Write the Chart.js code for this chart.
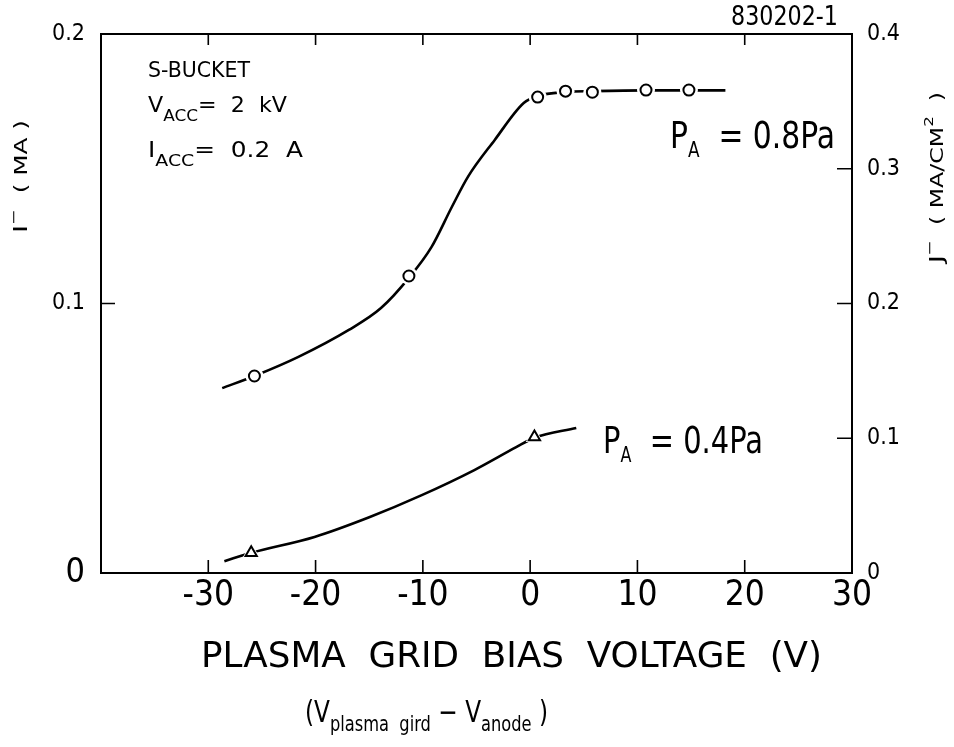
<!DOCTYPE html>
<html><head><meta charset="utf-8">
<script src="https://cdn.jsdelivr.net/npm/chart.js@4.4.1/dist/chart.umd.min.js"></script>
<style>html,body{margin:0;padding:0;background:#fff;overflow:hidden}#wrap{width:954px;height:747px}</style>
</head><body><div id="wrap"><canvas id="c" width="954" height="747"></canvas></div>
<script>
// ---- data ----
const xTickValues = [-30, -20, -10, 0, 10, 20, 30];
const leftTickValues = [0, 0.1, 0.2];
const rightTickValues = [0, 0.1, 0.2, 0.3, 0.4];

// P_A = 0.8 Pa : fitted curve and measured points
const curve08X = [-28.7, -25.7, -21.6, -16.9, -13.9, -11.3, -9.2, -7.3, -5.8, -3.3, -0.6, 0.7, 3.3, 5.8, 10.8, 14.8, 18.2];
const curve08Y = [0.0686, 0.0731, 0.0802, 0.0902, 0.0983, 0.1095, 0.1209, 0.1358, 0.1470, 0.1607, 0.1744, 0.1770, 0.1785, 0.1788, 0.1791, 0.1791, 0.1791];
const pts08X = [-25.7, -11.3, 0.7, 3.3, 5.8, 10.8, 14.8];
const pts08Y = [0.0731, 0.1102, 0.1766, 0.1788, 0.1784, 0.1792, 0.1792];

// P_A = 0.4 Pa
const curve04X = [-28.5, -26.0, -20.1, -15.0, -10.1, -5.2, -1.3, 0.4, 4.3];
const curve04Y = [0.0044, 0.0075, 0.0134, 0.0207, 0.0289, 0.0382, 0.0467, 0.0502, 0.0538];
const pts04X = [-26.0, 0.4];
const pts04Y = [0.0075, 0.0505];

const FAM = '"DejaVu Sans", "Liberation Sans", sans-serif';
const TICKFAM = '"DejaVu Sans Condensed", "Liberation Sans Narrow", "DejaVu Sans", sans-serif';
const xy = (xs, ys) => xs.map((x, i) => ({x, y: ys[i]}));

function drawParts(ctx, x, y, parts, sx) {
  let cx = x;
  for (const [t, size, dy] of parts) {
    ctx.font = size + 'px ' + FAM;
    const w = ctx.measureText(t).width * sx;
    ctx.save(); ctx.translate(cx, y + dy); ctx.scale(sx, 1); ctx.fillText(t, 0, 0); ctx.restore();
    cx += w;
  }
  return cx - x;
}
function partsWidth(ctx, parts) {
  let w = 0;
  for (const [t, size] of parts) { ctx.font = size + 'px ' + FAM; w += ctx.measureText(t).width; }
  return w;
}
function fitParts(ctx, left, y, parts, targetW) {
  const sx = targetW / partsWidth(ctx, parts);
  drawParts(ctx, left, y, parts, sx);
}

const decor = {
  id: 'decor',
  afterDatasetsDraw(chart) {
    const {ctx, chartArea: a, scales} = chart;
    ctx.save();
    ctx.strokeStyle = '#000'; ctx.fillStyle = '#000';
    ctx.lineWidth = 2;
    ctx.strokeRect(a.left, a.top, a.right - a.left, a.bottom - a.top);
    ctx.lineWidth = 1.6;
    ctx.beginPath();
    for (const v of xTickValues) {
      const px = scales.x.getPixelForValue(v);
      if (px >= a.right - 2) continue;
      ctx.moveTo(px, a.bottom); ctx.lineTo(px, a.bottom - 13);
      ctx.moveTo(px, a.top); ctx.lineTo(px, a.top + 11);
    }
    for (const v of leftTickValues) {
      const py = scales.y.getPixelForValue(v);
      if (py <= a.top + 2 || py >= a.bottom - 2) continue;
      ctx.moveTo(a.left, py); ctx.lineTo(a.left + 14, py);
    }
    for (const v of rightTickValues) {
      const py = scales.y2.getPixelForValue(v);
      if (py <= a.top + 2 || py >= a.bottom - 2) continue;
      ctx.moveTo(a.right, py); ctx.lineTo(a.right - 15, py);
    }
    ctx.stroke();

    ctx.textBaseline = 'alphabetic'; ctx.textAlign = 'left';
    // inset annotations
    fitParts(ctx, 148, 77, [['S-BUCKET', 21, 0]], 102);
    fitParts(ctx, 148, 112, [['V', 21, 0], ['ACC', 16, 9], ['=  2  kV', 21, 0]], 139);
    fitParts(ctx, 148, 157, [['I', 21, 0], ['ACC', 16, 9], ['=  0.2  A', 21, 0]], 155);
    fitParts(ctx, 731, 25, [['830202-1', 26, 0]], 107);
    fitParts(ctx, 670, 148, [['P', 37, 0], ['A', 21, 9], ['  = 0.8Pa', 37, 0]], 165);
    fitParts(ctx, 603, 453, [['P', 38, 0], ['A', 21, 9], ['  = 0.4Pa', 38, 0]], 160);

    // x axis titles
    fitParts(ctx, 201, 667, [['PLASMA  GRID  BIAS  VOLTAGE  (V)', 36, 0]], 621);
    fitParts(ctx, 305, 722, [['(V', 30, 0], ['plasma  gird', 21, 9], [' − ', 30, 0], ['V', 30, 0], ['anode', 21, 9], [' )', 30, 0]], 243);

    // rotated y titles
    const lp = [['I', 19, 0], ['−', 13, -9], ['  ( MA )', 17, 0]];
    ctx.save(); ctx.translate(27, 233); ctx.rotate(-Math.PI / 2);
    fitParts(ctx, 0, 0, lp, 113); ctx.restore();
    const rp = [['J', 19, 0], ['−', 13, -9], ['  ( MA/CM', 17, 0], ['2', 12, -10], ['  )', 17, 0]];
    ctx.save(); ctx.translate(943, 263); ctx.rotate(-Math.PI / 2);
    fitParts(ctx, 0, 0, rp, 171); ctx.restore();
    ctx.restore();
  }
};

const black = '#000';
new Chart(document.getElementById('c'), {
  type: 'line',
  data: {
    datasets: [
      {label: 'P_A = 0.8 Pa points', data: xy(pts08X, pts08Y), showLine: false, pointStyle: 'circle',
       pointRadius: 5.5, pointBorderWidth: 2, pointBackgroundColor: '#fff', pointBorderColor: black, order: 0},
      {label: 'P_A = 0.4 Pa points', data: xy(pts04X, pts04Y), showLine: false, pointStyle: 'triangle',
       pointRadius: 6.5, pointBorderWidth: 2, pointBackgroundColor: '#fff', pointBorderColor: black, order: 0},
      {label: 'halo 0.8', data: xy(pts08X, pts08Y), showLine: false, pointStyle: 'circle',
       pointRadius: 9, pointBorderWidth: 0, pointBackgroundColor: '#fff', pointBorderColor: '#fff', order: 1},
      {label: 'halo 0.4', data: xy(pts04X, pts04Y), showLine: false, pointStyle: 'triangle',
       pointRadius: 10, pointBorderWidth: 0, pointBackgroundColor: '#fff', pointBorderColor: '#fff', order: 1},
      {label: 'P_A = 0.8 Pa', data: xy(curve08X, curve08Y), borderColor: black, borderWidth: 2.6,
       pointRadius: 0, cubicInterpolationMode: 'monotone', fill: false, order: 2},
      {label: 'P_A = 0.4 Pa', data: xy(curve04X, curve04Y), borderColor: black, borderWidth: 2.6,
       pointRadius: 0, cubicInterpolationMode: 'monotone', fill: false, order: 2}
    ]
  },
  options: {
    responsive: false, animation: false, devicePixelRatio: 1,
    layout: {padding: {top: 34, left: 0, right: 0, bottom: 0}},
    plugins: {legend: {display: false}, tooltip: {enabled: false}},
    scales: {
      x: {type: 'linear', min: -40, max: 30,
        afterBuildTicks: s => { s.ticks = xTickValues.map(v => ({value: v})); },
        afterFit: s => { s.height = 174; },
        grid: {display: false, drawTicks: false}, border: {display: false},
        ticks: {color: black, padding: 2, font: {family: TICKFAM, size: 35}, maxRotation: 0, autoSkip: false}},
      y: {type: 'linear', position: 'left', min: 0, max: 0.2,
        afterBuildTicks: s => { s.ticks = leftTickValues.map(v => ({value: v})); },
        afterFit: s => { s.width = 101; },
        grid: {display: false, drawTicks: false}, border: {display: false},
        ticks: {color: black, padding: 16, autoSkip: false,
          callback: v => v === 0 ? '0' : v.toFixed(1),
          font: c => ({family: TICKFAM, size: (c.tick && c.tick.value === 0) ? 34 : 23})}},
      y2: {type: 'linear', position: 'right', min: 0, max: 0.4,
        afterBuildTicks: s => { s.ticks = rightTickValues.map(v => ({value: v})); },
        afterFit: s => { s.width = 102; },
        grid: {display: false, drawTicks: false}, border: {display: false},
        ticks: {color: black, padding: 15, autoSkip: false,
          callback: v => v === 0 ? '0' : v.toFixed(1),
          font: {family: TICKFAM, size: 23}}}
    }
  },
  plugins: [decor]
});
</script>
</body></html>
